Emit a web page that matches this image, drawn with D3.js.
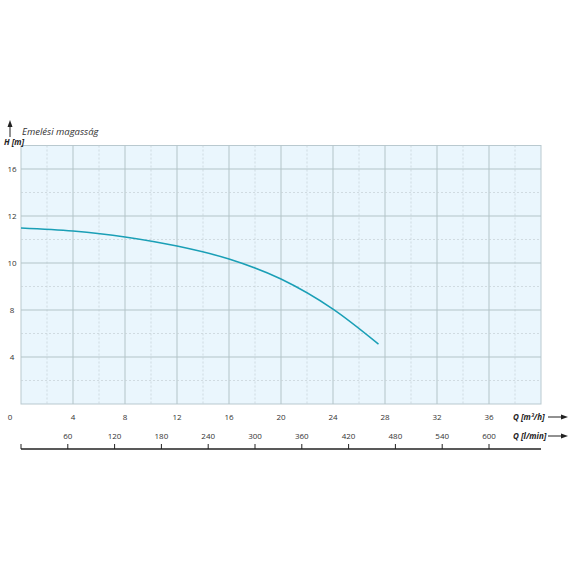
<!DOCTYPE html><html><head><meta charset="utf-8"><script src="https://cdn.jsdelivr.net/npm/d3@7"></script>
<style>body{margin:0;background:#fff}text{font-family:"Open Sans",sans-serif}</style></head><body>
<svg id="c" width="570" height="570"></svg>
<script>
const qTicks=[4,8,12,16,20,24,28,32,36];
const lTicks=[60,120,180,240,300,360,420,480,540,600];
const hTicks=[4,8,10,12,16];
const curveQ=[0,4,8,12,16,20,24,27.5];
const curveH=[11.49,11.36,11.11,10.72,10.17,9.32,8.04,5.1];
const svg=d3.select("#c");
const x=d3.scaleLinear().domain([0,40]).range([21,541]);
const y=d3.scaleLinear().domain([0,4,8,10,12,16,18]).range([404,357,310,263,216,169,145.5]);
const grid=[];for(let i=0;i<=11;i++)grid.push(404-i*23.5);
svg.append("rect").attr("x",x(0)).attr("y",145.5).attr("width",x(40)-x(0)).attr("height",404-145.5).attr("fill","#eaf6fd").attr("stroke","#b9c9cf");
for(let q=2;q<40;q+=2)svg.append("line").attr("x1",x(q)).attr("x2",x(q)).attr("y1",145.5).attr("y2",404).attr("stroke",q%4?"#c4d0d4":"#b3c4c8").attr("stroke-dasharray",q%4?"2,2":null).attr("stroke-width",q%4?0.7:1);
grid.slice(1,11).forEach((g,i)=>svg.append("line").attr("x1",x(0)).attr("x2",x(40)).attr("y1",g).attr("y2",g).attr("stroke",(i%2)?"#b3c4c8":"#c4d0d4").attr("stroke-dasharray",(i%2)?null:"2,2").attr("stroke-width",(i%2)?1:0.7));
svg.selectAll(".ht").data(hTicks).join("text").attr("x",12).attr("y",d=>y(d)+3).attr("text-anchor","middle").attr("font-size",8).attr("fill","#333").text(d=>d);
svg.append("text").attr("x",10).attr("y",420).attr("text-anchor","middle").attr("font-size",8).attr("fill","#333").text("0");
svg.selectAll(".qt").data(qTicks).join("text").attr("x",d=>x(d)).attr("y",420).attr("text-anchor","middle").attr("font-size",8).attr("fill","#333").text(d=>d);
const xl=d=>x(d*0.06);
svg.selectAll(".lt").data(lTicks).join("text").attr("x",d=>xl(d)).attr("y",439).attr("text-anchor","middle").attr("font-size",8).attr("fill","#333").text(d=>d);
svg.append("line").attr("x1",x(0)).attr("x2",x(40)).attr("y1",449).attr("y2",449).attr("stroke","#222").attr("stroke-width",1.6);
svg.append("line").attr("x1",x(0)).attr("x2",x(0)).attr("y1",444).attr("y2",449).attr("stroke","#222");
svg.selectAll(".lk").data(lTicks).join("line").attr("x1",d=>xl(d)).attr("x2",d=>xl(d)).attr("y1",444).attr("y2",449).attr("stroke","#222");
svg.append("path").datum(curveQ.map((q,i)=>[q,curveH[i]])).attr("d",d3.line().x(d=>x(d[0])).y(d=>y(d[1])).curve(d3.curveMonotoneX)).attr("fill","none").attr("stroke","#1a9fb6").attr("stroke-width",1.5);
svg.append("text").attr("x",513).attr("y",420).attr("font-size",8).attr("font-style","italic").attr("font-weight","bold").attr("fill","#222").attr("font-family","Liberation Serif").text("Q [m³/h]");
svg.append("text").attr("x",513).attr("y",439).attr("font-size",8).attr("font-style","italic").attr("font-weight","bold").attr("fill","#222").attr("font-family","Liberation Serif").text("Q [l/min]");
const arr=(x1,x2,yy)=>{svg.append("line").attr("x1",x1).attr("x2",x2-5).attr("y1",yy).attr("y2",yy).attr("stroke","#222");svg.append("path").attr("d",`M${x2},${yy}L${x2-7},${yy-2.5}L${x2-7},${yy+2.5}Z`).attr("fill","#222");};
arr(548,568,417);arr(548,568,436);
svg.append("line").attr("x1",10).attr("x2",10).attr("y1",137).attr("y2",125).attr("stroke","#222");
svg.append("path").attr("d","M10,120L7.5,127L12.5,127Z").attr("fill","#222");
svg.append("text").attr("x",4).attr("y",145).attr("font-size",8).attr("font-style","italic").attr("font-weight","bold").attr("fill","#222").attr("font-family","Liberation Serif").text("H [m]");
svg.append("text").attr("x",22).attr("y",135).attr("font-size",9.5).attr("font-style","italic").attr("fill","#333").text("Emelési magasság");
</script></body></html>
